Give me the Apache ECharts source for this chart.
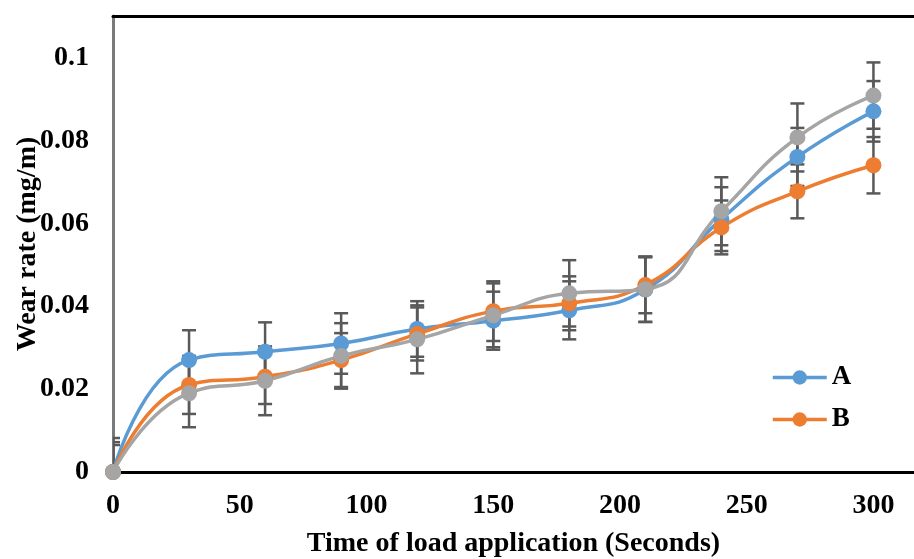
<!DOCTYPE html>
<html>
<head>
<meta charset="utf-8">
<script src="https://cdn.jsdelivr.net/npm/echarts@6/dist/echarts.min.js"></script>
<style>
  html, body { margin: 0; padding: 0; background: #fff; }
  #chart { width: 914px; height: 559px; }
</style>
</head>
<body>
<div id="chart"></div>
<script>
// 数据
var times = [0, 30, 60, 90, 120, 150, 180, 210, 240, 270, 300];
var seriesA = [0, 0.027, 0.029, 0.031, 0.0345, 0.0365, 0.039, 0.044, 0.061, 0.076, 0.087];
var seriesB = [0, 0.021, 0.023, 0.027, 0.0333, 0.0388, 0.0407, 0.0451, 0.059, 0.0677, 0.074];
var seriesC = [0, 0.019, 0.022, 0.028, 0.032, 0.0378, 0.0431, 0.0441, 0.0629, 0.0807, 0.0908];
// 误差
var errA = [0.0072, 0.0072, 0.0071, 0.0073, 0.0067, 0.0070, 0.0070, 0.0078, 0.0077, 0.0070, 0.0073];
var errB = [0.0065, 0.0070, 0.0066, 0.0065, 0.0064, 0.0072, 0.0065, 0.0068, 0.0065, 0.0065, 0.0068];
var errC = [0.0082, 0.0082, 0.0083, 0.0079, 0.0082, 0.0077, 0.0080, 0.0079, 0.0082, 0.0082, 0.0080];
// 刻度
var xTicks = [0, 50, 100, 150, 200, 250, 300];
var yTicks = [0, 0.02, 0.04, 0.06, 0.08, 0.1];

(function() {
  var myChart = echarts.init(document.getElementById('chart'));
  var font = "'Liberation Serif', 'Times New Roman', serif";
  var colors = ['#5B9BD5', '#ED7D31', '#A5A5A5'];

  function pairs(vals) {
    return times.map(function(t, i) { return [t, vals[i]]; });
  }
  function errData(vals, errs) {
    return times.map(function(t, i) { return [t, vals[i] - errs[i], vals[i] + errs[i]]; });
  }
  // 误差线
  function renderErr(params, api) {
    var x = api.value(0);
    var top = api.coord([x, api.value(2)]);
    var bot = api.coord([x, api.value(1)]);
    var w = 7;
    var style = { stroke: '#595959', lineWidth: 2.5 };
    return {
      type: 'group',
      children: [
        { type: 'line', shape: { x1: top[0], y1: top[1], x2: bot[0], y2: bot[1] }, style: style },
        { type: 'line', shape: { x1: top[0] - w, y1: top[1], x2: top[0] + w, y2: top[1] }, style: style },
        { type: 'line', shape: { x1: bot[0] - w, y1: bot[1], x2: bot[0] + w, y2: bot[1] }, style: style }
      ]
    };
  }
  function errSeries(vals, errs) {
    return {
      type: 'custom',
      renderItem: renderErr,
      data: errData(vals, errs),
      clip: true,
      z: 1,
      silent: true
    };
  }
  function lineSeries(name, vals, color) {
    return {
      name: name,
      type: 'line',
      data: pairs(vals),
      smooth: 0.5,
      symbol: 'circle',
      symbolSize: 16,
      color: color,
      lineStyle: { width: 3.5, color: color },
      itemStyle: { color: color },
      z: 3
    };
  }

  var option = {
    animation: false,
    grid: { left: 113, top: 16, right: 0, bottom: 87, containLabel: false, outerBoundsMode: 'none' },
    legend: {
      data: ['A', 'B'],
      orient: 'vertical',
      left: 766,
      top: 359,
      itemWidth: 54,
      itemHeight: 18,
      itemGap: 15,
      lineStyle: { width: 3.5 },
      textStyle: { fontFamily: font, fontWeight: 'bold', fontSize: 27, color: '#000' }
    },
    xAxis: [
      {
        type: 'value',
        min: 0,
        max: 316,
        interval: 50,
        name: 'Time of load application (Seconds)',
        nameLocation: 'middle',
        nameGap: 58,
        nameMoveOverlap: false,
        nameTextStyle: { fontFamily: font, fontWeight: 'bold', fontSize: 28, color: '#000' },
        axisLine: { show: true, lineStyle: { color: '#000', width: 3 } },
        axisTick: { show: false },
        splitLine: { show: false },
        axisLabel: {
          margin: 20,
          fontFamily: font, fontWeight: 'bold', fontSize: 28, color: '#000',
          formatter: function(v) { return xTicks.indexOf(v) >= 0 ? String(v) : ''; }
        }
      },
      {
        type: 'value',
        position: 'top',
        min: 0,
        max: 316,
        axisLine: { show: true, lineStyle: { color: '#000', width: 3 } },
        axisTick: { show: false },
        axisLabel: { show: false },
        splitLine: { show: false }
      }
    ],
    yAxis: {
      type: 'value',
      min: 0,
      max: 0.11,
      interval: 0.02,
      name: 'Wear rate (mg/m)',
      nameLocation: 'middle',
      nameGap: 71,
      nameMoveOverlap: false,
      nameTextStyle: { fontFamily: font, fontWeight: 'bold', fontSize: 28, color: '#000' },
      axisLine: { show: true, lineStyle: { color: '#7a7a7a', width: 3 } },
      axisTick: { show: false },
      splitLine: { show: false },
      axisLabel: {
        margin: 24,
        fontFamily: font, fontWeight: 'bold', fontSize: 28, color: '#000',
        formatter: function(v) {
          for (var i = 0; i < yTicks.length; i++) {
            if (Math.abs(yTicks[i] - v) < 1e-9) return String(yTicks[i]);
          }
          return '';
        }
      }
    },
    series: [
      errSeries(seriesA, errA),
      errSeries(seriesB, errB),
      errSeries(seriesC, errC),
      lineSeries('A', seriesA, colors[0]),
      lineSeries('B', seriesB, colors[1]),
      lineSeries('C', seriesC, colors[2])
    ]
  };
  myChart.setOption(option);
})();
</script>
</body>
</html>
